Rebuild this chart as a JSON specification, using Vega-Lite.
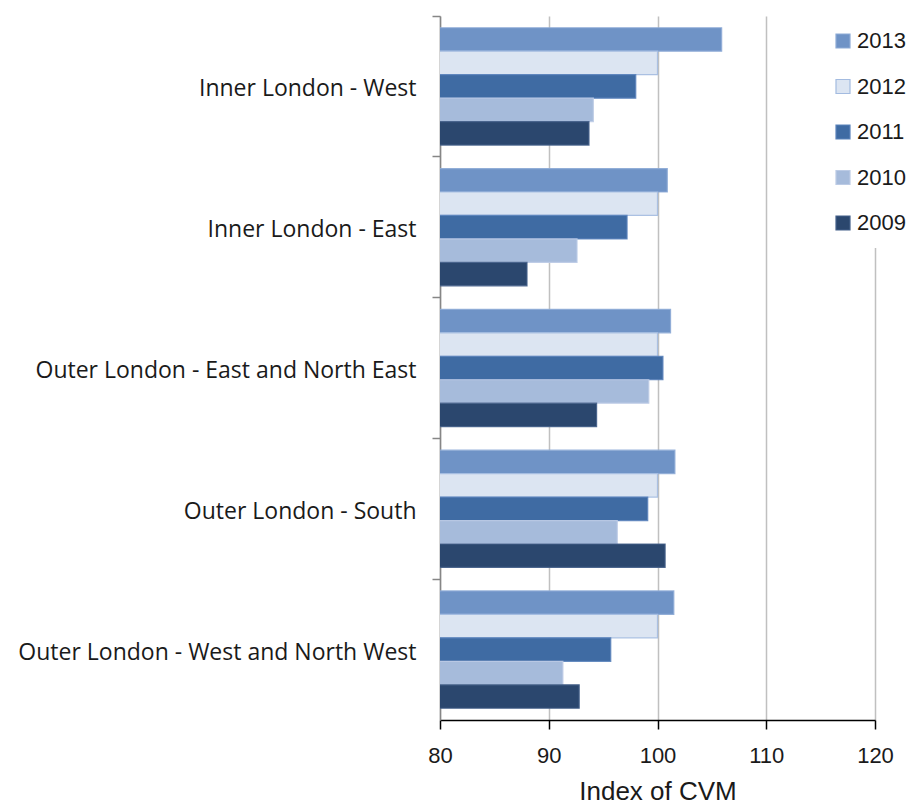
{
  "$schema": "https://vega.github.io/schema/vega-lite/v6.json",
  "width": 435,
  "height": 704,
  "autosize": "none",
  "padding": {"left": 440, "top": 16, "right": 36, "bottom": 84},
  "background": "white",
  "data": {
    "values": [
      {"region": "Inner London - West", "year": "2013", "value": 105.9},
      {"region": "Inner London - West", "year": "2012", "value": 100.0},
      {"region": "Inner London - West", "year": "2011", "value": 98.0},
      {"region": "Inner London - West", "year": "2010", "value": 94.1},
      {"region": "Inner London - West", "year": "2009", "value": 93.7},
      {"region": "Inner London - East", "year": "2013", "value": 100.9},
      {"region": "Inner London - East", "year": "2012", "value": 100.0},
      {"region": "Inner London - East", "year": "2011", "value": 97.2},
      {"region": "Inner London - East", "year": "2010", "value": 92.6},
      {"region": "Inner London - East", "year": "2009", "value": 88.0},
      {"region": "Outer London - East and North East", "year": "2013", "value": 101.2},
      {"region": "Outer London - East and North East", "year": "2012", "value": 100.0},
      {"region": "Outer London - East and North East", "year": "2011", "value": 100.5},
      {"region": "Outer London - East and North East", "year": "2010", "value": 99.2},
      {"region": "Outer London - East and North East", "year": "2009", "value": 94.4},
      {"region": "Outer London - South", "year": "2013", "value": 101.6},
      {"region": "Outer London - South", "year": "2012", "value": 100.0},
      {"region": "Outer London - South", "year": "2011", "value": 99.1},
      {"region": "Outer London - South", "year": "2010", "value": 96.3},
      {"region": "Outer London - South", "year": "2009", "value": 100.7},
      {"region": "Outer London - West and North West", "year": "2013", "value": 101.5},
      {"region": "Outer London - West and North West", "year": "2012", "value": 100.0},
      {"region": "Outer London - West and North West", "year": "2011", "value": 95.7},
      {"region": "Outer London - West and North West", "year": "2010", "value": 91.3},
      {"region": "Outer London - West and North West", "year": "2009", "value": 92.8}
    ]
  },
  "mark": {"type": "bar", "strokeWidth": 1.2, "strokeOpacity": 0.9, "clip": true},
  "encoding": {
    "y": {
      "field": "region",
      "type": "nominal",
      "sort": ["Inner London - West", "Inner London - East", "Outer London - East and North East", "Outer London - South", "Outer London - West and North West"],
      "scale": {"paddingInner": 0, "paddingOuter": 0},
      "axis": {
        "title": null,
        "bandPosition": 0,
        "labelOffset": 3,
        "labelFont": "Open Sans",
        "labelFontSize": 23,
        "labelColor": "#1a1a1a",
        "labelPadding": 16,
        "labelLimit": 0,
        "tickSize": 8,
        "tickColor": "#868686",
        "tickWidth": 1.5,
        "domainColor": "#868686",
        "domainWidth": 1.5,
        "grid": false
      }
    },
    "yOffset": {
      "field": "year",
      "type": "nominal",
      "sort": ["2013", "2012", "2011", "2010", "2009"],
      "scale": {"paddingInner": 0, "paddingOuter": 0.5}
    },
    "x": {
      "field": "value",
      "type": "quantitative",
      "scale": {"domain": [80, 120], "zero": false, "nice": false},
      "axis": {
        "title": "Index of CVM",
        "titleFont": "Liberation Sans",
        "titleFontSize": 26,
        "titleFontWeight": "normal",
        "titleColor": "#1a1a1a",
        "titlePadding": 12,
        "values": [80, 90, 100, 110, 120],
        "labelFlush": false,
        "labelFont": "Liberation Sans",
        "labelFontSize": 22,
        "labelColor": "#1a1a1a",
        "labelPadding": 16,
        "tickSize": 9,
        "tickColor": "#000000",
        "tickWidth": 1.5,
        "domainColor": "#000000",
        "domainWidth": 1.5,
        "grid": true,
        "gridColor": "#c0c0c0",
        "gridWidth": 1.5
      }
    },
    "fill": {
      "field": "year",
      "type": "nominal",
      "sort": ["2013", "2012", "2011", "2010", "2009"],
      "scale": {
        "domain": ["2013", "2012", "2011", "2010", "2009"],
        "range": ["#6f93c6", "#dce5f2", "#3f6ba3", "#a6bbdb", "#2b476e"]
      },
      "legend": {
        "title": null,
        "orient": "none",
        "legendX": 378,
        "legendY": 0,
        "padding": 14,
        "fillColor": "white",
        "symbolType": "square",
        "symbolSize": 196,
        "symbolStrokeWidth": 1.2,
        "labelFont": "Liberation Sans",
        "labelFontSize": 22,
        "labelColor": "#1a1a1a",
        "labelOffset": 3,
        "rowPadding": 23.5
      }
    },
    "stroke": {
      "field": "year",
      "type": "nominal",
      "sort": ["2013", "2012", "2011", "2010", "2009"],
      "scale": {
        "domain": ["2013", "2012", "2011", "2010", "2009"],
        "range": ["#8eabd6", "#a3bbe0", "#5b83bb", "#bccbe5", "#45618a"]
      }
    }
  },
  "config": {"view": {"stroke": null}}
}
